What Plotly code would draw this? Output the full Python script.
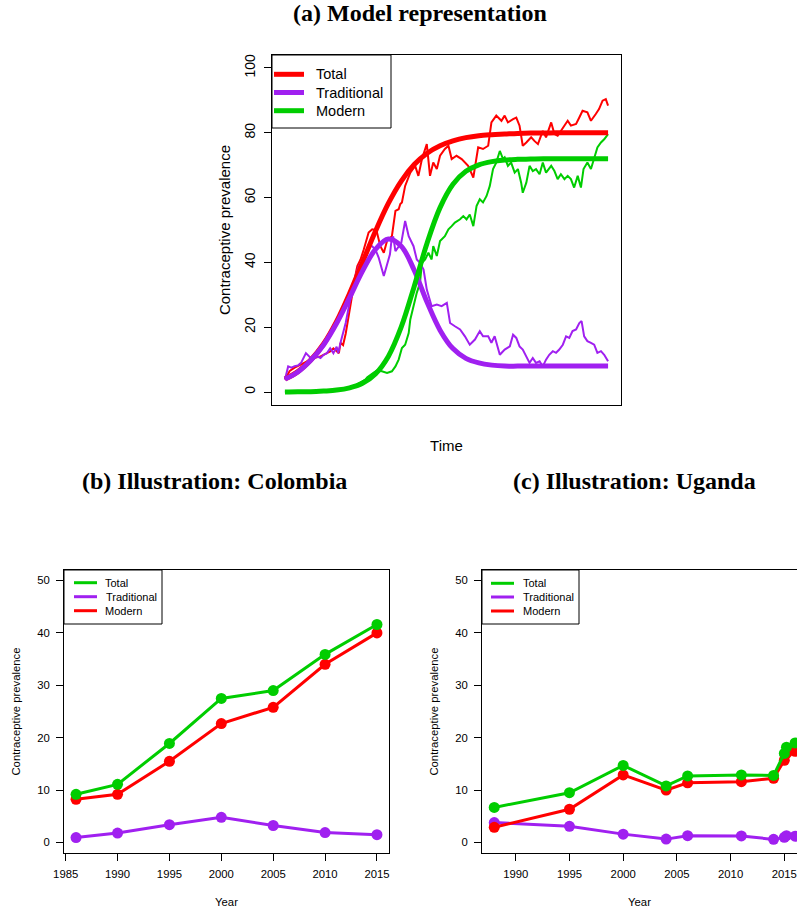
import plotly.graph_objects as go

W, H = 797, 914

# ---------------- Panel (a): model representation ----------------
t_smooth = [0, 4, 8, 12, 16, 20, 24, 28, 32, 36, 40, 44, 48, 52, 56, 60, 64, 68, 72, 76, 80, 84, 88, 92, 96, 100]
total_smooth = [4.0, 6.3, 9.9, 14.9, 21.8, 30.4, 40.0, 49.6, 58.2, 65.1, 70.2, 73.7, 76.0, 77.5, 78.5, 79.1,
                79.4, 79.6, 79.8, 79.9, 79.9, 80.0, 80.0, 80.0, 80.0, 80.0]
trad_smooth = [4.0, 6.2, 9.8, 14.6, 21.2, 29.1, 37.3, 44.0, 47.2, 45.0, 37.6, 27.7, 19.1, 13.4, 10.4, 9.0,
               8.3, 8.0, 8.0, 8.0, 8.0, 8.0, 8.0, 8.0, 8.0, 8.0]
modern_smooth = [0.0, 0.1, 0.1, 0.3, 0.6, 1.3, 2.7, 5.6, 11.0, 20.1, 32.6, 46.0, 56.9, 64.1, 68.1, 70.1,
                 71.1, 71.6, 71.8, 71.9, 72.0, 72.0, 72.0, 72.0, 72.0, 72.0]

t_total_obs = [0, 1.5, 3, 5, 7, 9, 11, 12, 13, 14, 15, 16, 16.7, 17.2, 18, 18.8, 19.8, 21, 22, 22.4, 23.4,
               24.4, 25.9, 27.0, 28.0, 28.5, 29.5, 30.6, 31.6, 33.1, 34.2, 35.2, 35.7, 36.2, 37.2, 38.8,
               40.3, 41.3, 42.4, 43.9, 44.9, 45.9, 47.0, 48.0, 49.5, 50.6, 51.6, 53.1, 54.7, 56.7, 58.3,
               59.8, 61.3, 62.9, 63.9, 65.4, 67.0, 68.0, 69.0, 70.6, 71.6, 72.6, 73.6, 74.7, 76.2, 77.2,
               78.3, 79.8, 80.8, 82.4, 83.4, 84.4, 86.0, 87.5, 88.5, 90.1, 91.1, 92.1, 93.6, 94.7, 96.2,
               97.2, 98.3, 99.3, 100]
total_obs = [4.0, 6.5, 7.5, 8.5, 9.5, 10.5, 11.0, 11.5, 12.0, 12.5, 13.5, 12.5, 12.0, 15.2, 14.5, 18.0,
             24.4, 31.0, 37.0, 38.9, 40.9, 44.0, 49.2, 50.2, 50.0, 49.2, 45.1, 43.0, 46.6, 48.1, 55.9,
             56.4, 58.0, 58.5, 63.6, 67.7, 69.8, 66.7, 71.9, 76.5, 66.7, 70.8, 68.8, 72.9, 75.0, 76.0,
             71.9, 72.9, 71.9, 69.8, 66.2, 75.5, 75.0, 76.0, 83.2, 85.3, 83.7, 85.3, 83.2, 84.2, 84.7,
             82.2, 76.0, 77.0, 78.6, 77.5, 76.5, 80.6, 78.6, 83.2, 79.6, 79.1, 81.6, 83.7, 82.2, 82.7,
             84.7, 86.8, 86.3, 83.7, 85.8, 87.3, 89.9, 90.4, 88.4]

t_trad_obs = [0, 1, 2, 3, 4, 5, 6.5, 7.5, 8.5, 10, 11, 12, 13, 14, 15, 16, 16.5, 17.2, 18.8, 19.8, 20.8,
              21.8, 22.9, 24.4, 25.4, 26, 27, 28, 29, 30, 30.6, 31.5, 32.5, 33, 33.5, 34.2, 35, 36, 37.2,
              38.3, 39.8, 40.8, 41.8, 42.9, 43.9, 45.4, 47.0, 48.5, 50.1, 51.1, 52.6, 54.2, 55.7, 57.2,
              58.8, 60.3, 61.3, 62.9, 63.9, 64.9, 66.5, 68.0, 69.6, 70.6, 71.6, 72.6, 73.6, 74.7, 75.7,
              76.7, 77.7, 78.8, 79.8, 80.8, 81.8, 82.9, 83.9, 84.9, 86.0, 87.0, 88.0, 89.0, 90.1, 91.1,
              91.8, 92.6, 93.6, 94.7, 95.7, 96.7, 97.8, 98.8, 100]
trad_obs = [3.8, 7.9, 7.5, 8.0, 8.2, 9.0, 12.0, 11.0, 10.0, 11.0, 10.5, 11.5, 12.0, 13.5, 12.0, 14.0, 12.0,
            15.2, 21.3, 26.5, 31.6, 35.8, 38.9, 41.0, 44.0, 45.0, 45.0, 44.0, 41.5, 38.0, 35.8, 39.0, 42.5,
            47.0, 48.0, 43.5, 44.5, 46.0, 52.8, 48.1, 45.0, 40.9, 39.9, 37.8, 31.6, 26.5, 27.0, 26.5, 27.5,
            21.3, 20.3, 19.3, 17.2, 14.6, 16.2, 18.8, 17.2, 17.2, 15.2, 17.2, 11.5, 13.1, 14.1, 17.7, 16.7,
            14.1, 13.1, 11.0, 9.0, 10.5, 9.0, 9.5, 7.9, 10.0, 11.5, 12.6, 12.1, 13.1, 14.6, 17.2, 16.7,
            18.8, 19.3, 21.3, 21.9, 17.2, 15.7, 15.2, 14.6, 12.1, 12.6, 11.5, 9.5]

t_modern_obs = [0, 4, 8, 12, 16, 20, 22, 23.5, 24.9, 25.5, 26.5, 27.5, 28.5, 30, 31.6, 33.1, 34.2, 35.2,
                36.2, 37.2, 37.7, 38.3, 38.8, 39.8, 40.8, 41.8, 42.4, 43.4, 44.4, 45.4, 45.9, 47, 48, 49.5,
                50.6, 51.6, 52.6, 54.2, 55.2, 56.2, 57.2, 58.3, 59.3, 60.3, 61.3, 62.4, 63.4, 64.4, 65.4,
                66.5, 67.5, 68, 69, 70, 71.1, 72.1, 73.1, 73.6, 74.7, 75.7, 76.7, 77.7, 78.8, 79.8, 80.8,
                82.4, 83.4, 84.4, 85.4, 86.5, 87.5, 88.5, 89.5, 90.6, 91.6, 92.4, 93.6, 94.7, 95.7, 96.7,
                97.8, 98.8, 100]
modern_obs = [0.0, 0.1, 0.2, 0.4, 0.7, 1.4, 2.2, 3.0, 3.8, 4.6, 5.4, 6.0, 6.6, 6.4, 5.9, 6.4, 7.9, 10.0,
              13.6, 14.6, 16.2, 18.2, 22.4, 26.5, 30.6, 33.7, 39.9, 40.9, 43.0, 40.9, 45.0, 42.0, 46.6,
              48.1, 50.2, 51.2, 52.3, 53.3, 54.3, 53.3, 54.8, 51.2, 57.4, 59.5, 58.5, 60.5, 63.6, 68.8,
              70.8, 74.4, 71.9, 72.4, 69.8, 70.8, 67.7, 68.8, 64.6, 61.5, 64.6, 69.8, 68.2, 68.8, 67.2,
              70.8, 67.7, 69.8, 68.2, 65.7, 67.2, 65.7, 66.7, 65.7, 63.1, 66.7, 63.1, 68.8, 70.8, 68.8,
              71.9, 75.5, 77.0, 78.0, 79.6]

# ---------------- Panel (b): Colombia ----------------
col_years = [1986, 1990, 1995, 2000, 2005, 2010, 2015]
col_total = [9.2, 11.1, 18.9, 27.5, 29.0, 35.9, 41.6]
col_trad = [0.95, 1.8, 3.4, 4.8, 3.25, 1.9, 1.5]
col_modern = [8.25, 9.2, 15.5, 22.7, 25.8, 34.0, 40.0]

# ---------------- Panel (c): Uganda ----------------
uga_years = [1988, 1995, 2000, 2004, 2006, 2011, 2014, 2015.0, 2015.2, 2016]
uga_total = [6.7, 9.5, 14.7, 10.8, 12.7, 12.9, 12.8, 17.0, 18.2, 19.0]
uga_trad = [3.8, 3.1, 1.6, 0.65, 1.3, 1.25, 0.6, 1.0, 1.3, 1.2]
uga_modern = [2.9, 6.35, 12.9, 10.0, 11.4, 11.6, 12.25, 15.7, 17.0, 17.4]

legend_a_labels = ["Total", "Traditional", "Modern"]
legend_bc_labels = ["Total", "Traditional", "Modern"]

RED = "#FF0000"
PURPLE = "#A020F0"
GREEN = "#00CD00"
SANS = "Liberation Sans"
SERIF = "Liberation Serif"

fig = go.Figure()

# panel (a) noisy observations
for tx, ty, col in [(t_total_obs, total_obs, RED), (t_modern_obs, modern_obs, GREEN),
                    (t_trad_obs, trad_obs, PURPLE)]:
    fig.add_trace(go.Scatter(x=tx, y=ty, mode="lines", line=dict(color=col, width=2),
                             showlegend=False, hoverinfo="skip", xaxis="x", yaxis="y"))
# panel (a) smooth model curves
for name, ty, col in [("Total", total_smooth, RED), ("Traditional", trad_smooth, PURPLE),
                      ("Modern", modern_smooth, GREEN)]:
    fig.add_trace(go.Scatter(x=t_smooth, y=ty, mode="lines", name=name, showlegend=False,
                             line=dict(color=col, width=5, shape="spline", smoothing=1.0),
                             xaxis="x", yaxis="y"))

# panels (b) and (c)
def add_country(years, total, trad, modern, xa, ya):
    for name, vals, col in [("Traditional", trad, PURPLE), ("Modern", modern, RED),
                            ("Total", total, GREEN)]:
        fig.add_trace(go.Scatter(x=years, y=vals, mode="lines+markers", name=name, showlegend=False,
                                 line=dict(color=col, width=3),
                                 marker=dict(color=col, size=11, line=dict(width=0)),
                                 xaxis=xa, yaxis=ya))

add_country(col_years, col_total, col_trad, col_modern, "x2", "y2")
add_country(uga_years, uga_total, uga_trad, uga_modern, "x3", "y3")


def px_x(p):
    return p / W


def px_y(p):
    return 1 - p / H


# ---- legends drawn as boxes, key lines and text (R-style legend boxes) ----
shapes = []
annotations = []


def draw_legend(box, labels, colors, key_x0, key_x1, text_x, ys, lw, fsize):
    x0, y0, x1, y1 = box
    shapes.append(dict(type="rect", xref="paper", yref="paper", x0=px_x(x0), x1=px_x(x1),
                       y0=px_y(y1), y1=px_y(y0), line=dict(color="black", width=1),
                       fillcolor="white", layer="above"))
    for lab, col, yy in zip(labels, colors, ys):
        shapes.append(dict(type="line", xref="paper", yref="paper", x0=px_x(key_x0), x1=px_x(key_x1),
                           y0=px_y(yy), y1=px_y(yy), line=dict(color=col, width=lw), layer="above"))
        annotations.append(dict(text=lab, x=px_x(text_x), y=px_y(yy), xref="paper", yref="paper",
                                showarrow=False, xanchor="left", yanchor="middle",
                                font=dict(family=SANS, size=fsize, color="black")))


draw_legend((272, 55, 391, 128), legend_a_labels, [RED, PURPLE, GREEN], 274, 304, 314,
            [74.3, 92.5, 110.7], 5, 14.5)
draw_legend((64, 570, 162, 624), legend_bc_labels, [GREEN, PURPLE, RED], 74, 97, 103.5,
            [582.7, 596.7, 610.7], 3, 11)
draw_legend((482, 570, 579, 624), legend_bc_labels, [GREEN, PURPLE, RED], 491, 514, 521,
            [583.3, 597, 611], 3, 11)

for txt, cx, cy in [("<b>(a) Model representation</b>", 420, 13),
                    ("<b>(b) Illustration: Colombia</b>", 214, 481),
                    ("<b>(c) Illustration: Uganda</b>", 634, 481)]:
    annotations.append(dict(text=txt, x=px_x(cx), y=px_y(cy), xref="paper", yref="paper",
                            showarrow=False, font=dict(family=SERIF, size=24, color="black"),
                            xanchor="center", yanchor="middle"))

axis_common = dict(showline=True, linecolor="black", linewidth=1, showgrid=False, zeroline=False,
                   ticks="outside", ticklen=7, tickcolor="black", tickwidth=1)

fig.update_layout(
    width=W, height=H,
    margin=dict(l=0, r=0, t=0, b=0, autoexpand=False),
    paper_bgcolor="white", plot_bgcolor="white",
    font=dict(family=SANS, color="black"),
    showlegend=False,
    # panel (a)
    xaxis=dict(domain=[px_x(272), px_x(621)], range=[-4, 104], anchor="y", mirror=True,
               showline=True, linecolor="black", linewidth=1, showgrid=False, zeroline=False,
               showticklabels=False, ticks="",
               title=dict(text="Time", font=dict(size=15), standoff=35)),
    yaxis=dict(domain=[px_y(405), px_y(55)], range=[-4, 104], anchor="x", mirror=True,
               tickvals=[0, 20, 40, 60, 80, 100], tickangle=-90, tickfont=dict(size=14),
               ticklabelstandoff=3,
               title=dict(text="Contraceptive prevalence", font=dict(size=15), standoff=8),
               **axis_common),
    # panel (b)
    xaxis2=dict(domain=[px_x(64), px_x(389)], range=[1984.84, 2016.16], anchor="y2", mirror=True,
                tickvals=[1985, 1990, 1995, 2000, 2005, 2010, 2015], tickfont=dict(size=11.3),
                ticklabelstandoff=3,
                title=dict(text="Year", font=dict(size=11.3), standoff=19), **axis_common),
    yaxis2=dict(domain=[px_y(853), px_y(570)], range=[-2, 52], anchor="x2", mirror=True,
                tickvals=[0, 10, 20, 30, 40, 50], tickfont=dict(size=11.3), ticklabelstandoff=4,
                title=dict(text="Contraceptive prevalence", font=dict(size=11.3), standoff=14),
                **axis_common),
    # panel (c) (cut off at the right edge like the reference)
    xaxis3=dict(domain=[px_x(482), 1.0], range=[1986.86, 2016.18], anchor="y3", mirror=True,
                tickvals=[1990, 1995, 2000, 2005, 2010, 2015], tickfont=dict(size=11.3),
                ticklabelstandoff=3,
                title=dict(text="Year", font=dict(size=11.3), standoff=19), **axis_common),
    yaxis3=dict(domain=[px_y(853), px_y(570)], range=[-2, 52], anchor="x3", mirror=False,
                tickvals=[0, 10, 20, 30, 40, 50], tickfont=dict(size=11.3), ticklabelstandoff=4,
                title=dict(text="Contraceptive prevalence", font=dict(size=11.3), standoff=14),
                **axis_common),
    shapes=shapes,
    annotations=annotations,
)

fig.write_html("out.html")
